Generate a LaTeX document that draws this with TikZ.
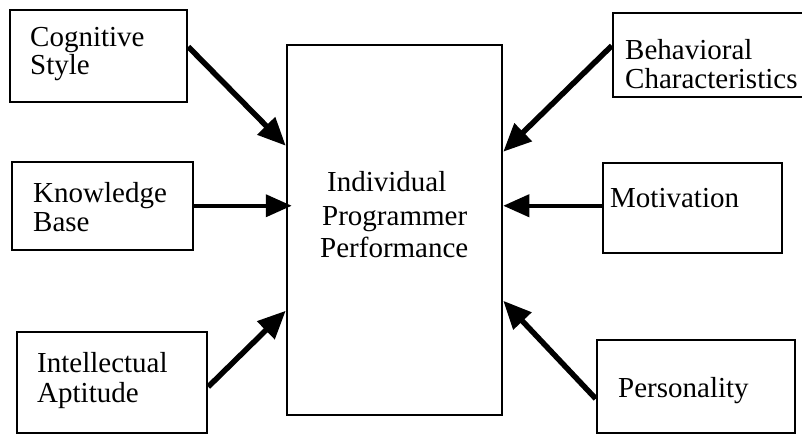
\documentclass[tikz,border=0pt]{standalone}
\usepackage{fontspec}
\setmainfont{Liberation Serif}
\usetikzlibrary{arrows.meta,calc}
\begin{document}
\begin{tikzpicture}[x=1pt,y=-1pt,
  box/.style={draw, line width=2.5pt, rectangle, inner sep=0pt},
  lbl/.style={anchor=base west, inner sep=0pt, font=\fontsize{29}{31}\selectfont},
  conn/.style={line width=5.5pt, -{Triangle[length=28pt,width=24pt]}},
  hconn/.style={line width=4pt, -{Triangle[length=26pt,width=22pt]}}]
\clip (0,0) rectangle (802,435);
\fill[white] (0,0) rectangle (802,435);
% boxes
\node[box, minimum width=177pt, minimum height=92pt] (cog) at (98.5,56) {};
\node[box, minimum width=181pt, minimum height=88pt] (know) at (102.5,206) {};
\node[box, minimum width=190pt, minimum height=101pt] (intel) at (112,382.5) {};
\node[box, minimum width=215pt, minimum height=370pt] (central) at (394.5,230) {};
\node[box, minimum width=207pt, minimum height=84pt] (beh) at (716.5,55) {};
\node[box, minimum width=179pt, minimum height=90pt] (mot) at (692.5,208) {};
\node[box, minimum width=198pt, minimum height=93pt] (pers) at (696,386.5) {};
% labels
\node[lbl] (cogA) at (30,47) {Cognitive};
\node[lbl] (cogB) at (30,75) {Style};
\node[lbl] (knowA) at (33,203) {Knowledge};
\node[lbl] (knowB) at (33,232) {Base};
\node[lbl] (intelA) at (37,372) {Intellectual};
\node[lbl] (intelB) at (37,402) {Aptitude};
\node[lbl] (cenA) at (327,192) {Individual};
\node[lbl] (cenB) at (322,226) {Programmer};
\node[lbl] (cenC) at (320,258) {Performance};
\node[lbl] (behA) at (625,60) {Behavioral};
\node[lbl] (behB) at (625,89) {Characteristics};
\node[lbl] (motA) at (610,208) {Motivation};
\node[lbl] (persA) at (618,397) {Personality};
% connectors
\draw[conn] ($(cog.north east)+(0,38)$) -- ($(central.north west)+(0,102)$);
\draw[hconn] ($(know.north east)+(0,45)$) -- ($(central.north west)+(6,162)$);
\draw[conn] ($(intel.north east)+(0,56)$) -- ($(central.north west)+(0,267)$);
\draw[conn] ($(beh.north west)+(0,34)$) -- ($(central.north east)+(0,108)$);
\draw[hconn] ($(mot.north west)+(0,44)$) -- ($(central.north east)+(0,162)$);
\draw[conn] ($(pers.north west)+(0,60)$) -- ($(central.north east)+(0,257)$);
\end{tikzpicture}
\end{document}
